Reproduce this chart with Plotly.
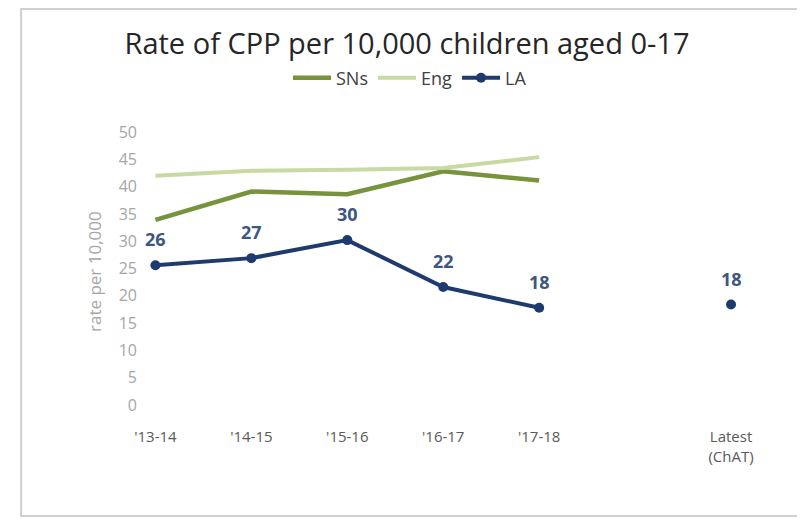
import plotly.graph_objects as go

categories = ["'13-14", "'14-15", "'15-16", "'16-17", "'17-18", " ", "Latest<br>(ChAT)"]
sns = [33.9, 39.1, 38.6, 42.8, 41.1, None, None]
eng = [42.0, 42.9, 43.1, 43.4, 45.4, None, None]
la = [25.6, 26.9, 30.2, 21.6, 17.8, None, 18.4]
y_ticks = [0, 5, 10, 15, 20, 25, 30, 35, 40, 45, 50]

# page body has an 8px margin; work in screen pixels and convert
OFF = 8
W, H = 805 - OFF, 520 - OFF
ML, MT = 142 - OFF, 131.5 - OFF
PW = 637.4
PH = 405.5 - 131.5
MR = W - ML - PW
MB = H - MT - PH


def px_x(x):
    return (x - OFF - ML) / PW


def px_y(y):
    return (MT + PH - (y - OFF)) / PH


fig = go.Figure()
fig.add_trace(go.Scatter(x=categories, y=sns, mode="lines", name="SNs",
                         line=dict(color="#77933C", width=4.5)))
fig.add_trace(go.Scatter(x=categories, y=eng, mode="lines", name="Eng",
                         line=dict(color="#C6DAA2", width=4)))
fig.add_trace(go.Scatter(x=categories, y=la, mode="lines+markers", name="LA",
                         line=dict(color="#1F3B6E", width=4),
                         marker=dict(color="#1F3B6E", size=10, symbol="circle"),
                         connectgaps=False))

for c, v in zip(categories, la):
    if v is not None:
        fig.add_annotation(x=c, y=v, text="<b>%d</b>" % round(v), showarrow=False,
                           yshift=26, font=dict(family="Open Sans", size=18, color="#3E5680"))

fig.add_annotation(xref="paper", yref="paper", x=px_x(95), y=px_y(272),
                   xanchor="center", yanchor="middle",
                   text="rate per 10,000", textangle=-90, showarrow=False,
                   font=dict(family="Open Sans", size=17, color="#A6A6A6"))

fig.add_shape(type="rect", xref="paper", yref="paper",
              x0=px_x(21), x1=px_x(800), y0=px_y(517), y1=px_y(8),
              line=dict(color="#D0D0D0", width=2), layer="below")

fig.update_layout(
    width=W, height=H,
    margin=dict(l=ML, r=MR, t=MT, b=MB),
    paper_bgcolor="white", plot_bgcolor="white",
    title=dict(text="Rate of CPP per 10,000 children aged 0-17",
               x=(407 - OFF) / W, xref="container", xanchor="center",
               y=1 - (44 - OFF) / H, yref="container", yanchor="middle",
               font=dict(family="Open Sans", size=29, color="#262626")),
    legend=dict(orientation="h", xref="container", yref="container",
                x=(410 - OFF) / W, xanchor="center", y=1 - (78 - OFF) / H, yanchor="middle",
                font=dict(family="Open Sans", size=18, color="#404040"),
                itemwidth=38, tracegroupgap=0),
    showlegend=True,
    xaxis=dict(type="category", categoryorder="array", categoryarray=categories,
               range=[-0.14, 6.5], showgrid=False, zeroline=False, showline=False,
               ticks="", ticklabelstandoff=21,
               tickfont=dict(family="Open Sans", size=15, color="#595959")),
    yaxis=dict(range=[0, 50], tickvals=y_ticks, showgrid=False, zeroline=False,
               showline=False, ticks="", ticklabelstandoff=4,
               tickfont=dict(family="Open Sans", size=16, color="#A6A6A6")),
)

fig.write_html("out.html")
